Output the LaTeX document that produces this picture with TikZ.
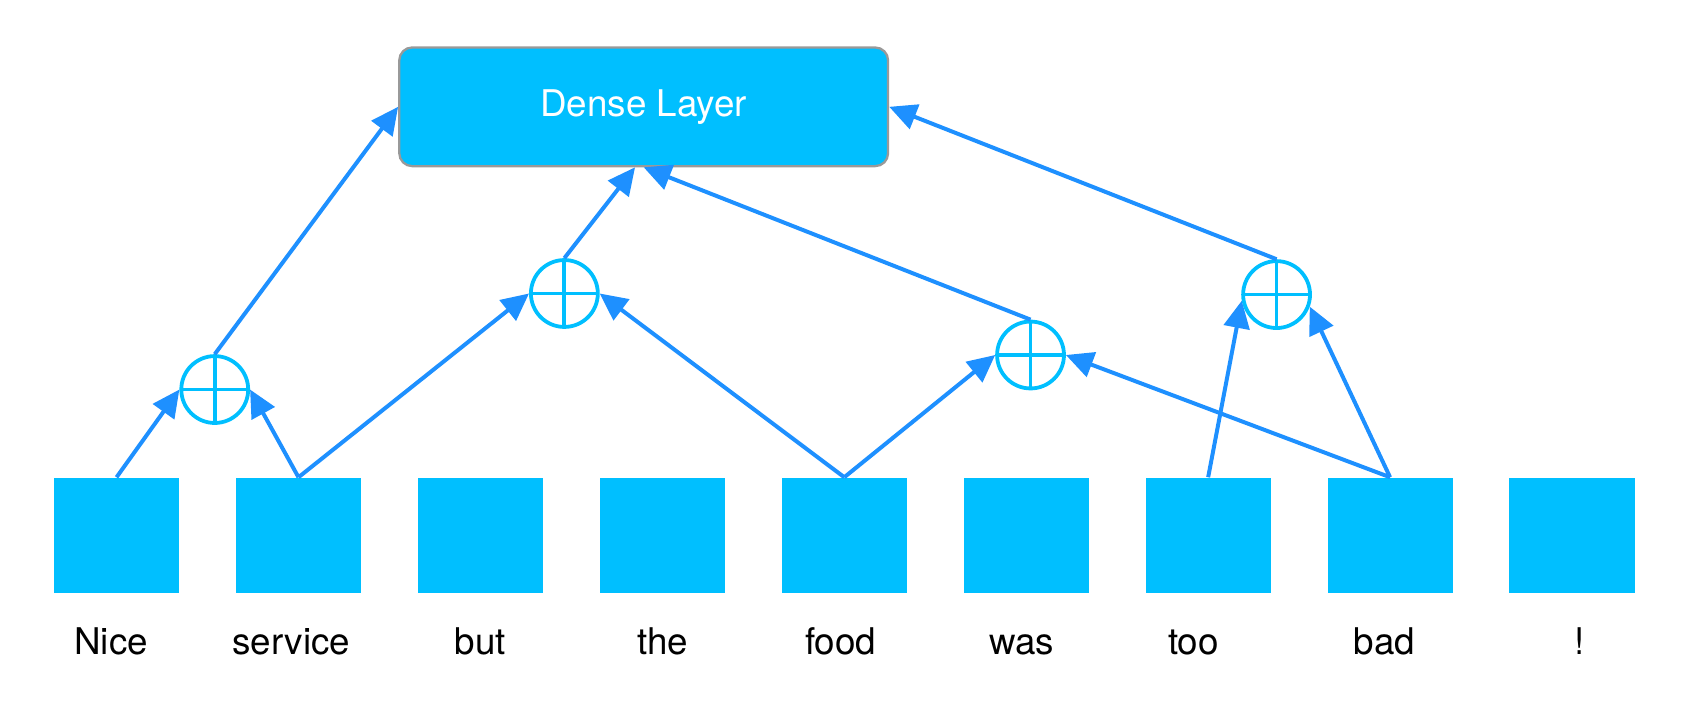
\documentclass[tikz,border=0pt]{standalone}
\usepackage{fontspec}
\setmainfont{TeX Gyre Heros}
\usetikzlibrary{shapes,arrows.meta}
\definecolor{skyblue}{HTML}{00BFFF}
\definecolor{linkblue}{HTML}{1E90FF}

\begin{document}
\begin{tikzpicture}[
	font=\fontsize{9.7}{11}\selectfont,
	token/.style={rectangle,fill=skyblue,minimum width=1.16cm,minimum height=1.07cm,inner sep=0pt},
	plus/.style={circle,draw=skyblue,line width=1pt,minimum size=0.62cm,inner sep=0pt,
		path picture={\draw[skyblue,line width=1pt]
			(path picture bounding box.north)--(path picture bounding box.south)
			(path picture bounding box.west)--(path picture bounding box.east);}},
	link/.style={draw=linkblue,line width=1.05pt,-{Triangle[length=7.2pt,width=6.8pt]}}]
	\useasboundingbox (0,0) rectangle (15.68,6.62);

	% tokens and words
	\foreach \w/\lx [count=\i] in {Nice/1.03,service/2.70,but/4.45,the/6.14,food/7.79,was/9.47,too/11.06,bad/12.83,!/14.64}{
		\node[token] (w\i) at (-0.606+1.686*\i,1.655) {};
		\node[anchor=base] (t\i) at (\lx,0.55) {\w};
	}

	\node[draw=gray!80,fill=skyblue,rounded corners=0.12cm,line width=0.6pt,
		minimum width=4.53cm,minimum height=1.10cm,text=white] (dense) at (5.965,5.63) {Dense Layer};

	\node[plus] (p1) at (1.99,3.01) {};
	\node[plus] (p2) at (5.23,3.90) {};
	\node[plus] (p3) at (9.55,3.33) {};
	\node[plus] (p4) at (11.83,3.89) {};

	\draw[link] (w1.north) -- (p1.west);
	\draw[link] (w2.north) -- (p1.east);
	\draw[link] (w2.north) -- (p2.west);
	\draw[link] (w5.north) -- (p2.east);
	\draw[link] (w5.north) -- (p3.west);
	\draw[link] (w8.north) -- (p3.east);
	\draw[link] (w7.north) -- (p4.190);
	\draw[link] (w8.north) -- (p4.-20);

	\draw[link] (p1.north) -- (dense.west);
	\draw[link] (p2.north) -- ([xshift=-0.8mm]dense.south);
	\draw[link] (p3.north) -- (dense.south);
	\draw[link] (p4.north) -- (dense.east);
\end{tikzpicture}
\end{document}
